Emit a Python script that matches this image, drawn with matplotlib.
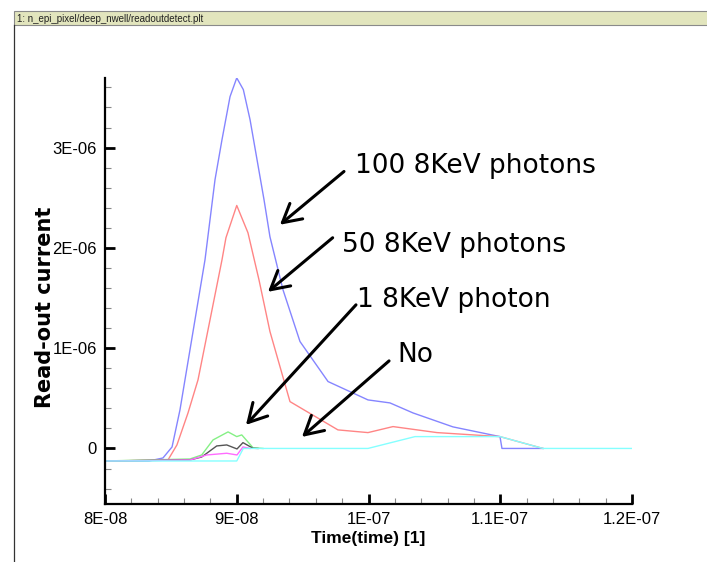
"""Read-out current of the deep n-well pixel for several photon counts."""

import matplotlib

matplotlib.use("Agg")
import matplotlib.pyplot as plt
import numpy as np
from matplotlib.patches import Rectangle
from matplotlib.lines import Line2D

# Time in ns, current in uA.
t_100 = [80.0, 83.34, 84.40, 85.09, 85.69, 86.07, 87.59, 88.35, 88.88, 89.49,
         90.0, 90.5, 91.01, 91.54, 92.07, 92.52, 93.51, 94.80, 96.93, 99.96,
         101.63, 103.38, 106.41, 109.98, 110.13, 113.24]
i_100 = [-0.125, -0.125, -0.095, 0.015, 0.384, 0.684, 1.881, 2.680, 3.079, 3.508,
         3.695, 3.578, 3.278, 2.879, 2.480, 2.111, 1.582, 1.066, 0.667, 0.484,
         0.454, 0.354, 0.215, 0.118, 0.0, 0.0]

t_50 = [80.0, 84.78, 85.46, 86.30, 87.06, 87.97, 88.88, 89.18, 90.0, 90.85,
        91.69, 92.52, 94.04, 97.68, 99.96, 101.86, 105.20, 109.98, 113.24]
i_50 = [-0.125, -0.115, 0.035, 0.354, 0.684, 1.282, 1.881, 2.101, 2.423, 2.151,
        1.680, 1.166, 0.467, 0.185, 0.158, 0.218, 0.158, 0.118, 0.0]

t_green = [80.0, 86.45, 87.34, 88.20, 89.34, 90.0, 90.38, 91.23, 91.99]
i_green = [-0.125, -0.105, -0.065, 0.085, 0.165, 0.118, 0.135, 0.008, 0.0]

t_black = [80.0, 86.45, 87.34, 88.48, 89.24, 90.02, 90.47, 91.23, 91.61]
i_black = [-0.125, -0.115, -0.085, 0.025, 0.035, -0.005, 0.058, 0.002, 0.0]

t_magenta = [80.0, 86.45, 87.72, 89.24, 90.02, 90.47, 91.0]
i_magenta = [-0.125, -0.115, -0.065, -0.048, -0.065, 0.015, 0.0]

t_none = [80.0, 90.0, 90.5, 99.96, 103.53, 109.98, 113.24, 120.0]
i_none = [-0.125, -0.125, 0.0, 0.0, 0.118, 0.118, 0.0, 0.0]

x_ticks = [8e-8, 9e-8, 1e-7, 1.1e-7, 1.2e-7]
x_labels = ["8E-08", "9E-08", "1E-07", "1.1E-07", "1.2E-07"]
y_ticks = [0, 1e-6, 2e-6, 3e-6]
y_labels = ["0", "1E-06", "2E-06", "3E-06"]

# (label, arrow head, arrow tail, text anchor) in ns / uA
notes = [
    ("100 8KeV photons", (93.28, 2.231), (98.14, 2.762), (98.98, 2.82)),
    ("50 8KeV photons", (92.37, 1.562), (97.28, 2.101), (97.99, 2.031)),
    ("1 8KeV photon", (90.70, 0.235), (99.05, 1.432), (99.13, 1.482)),
    ("No", (94.95, 0.115), (101.56, 0.873), (102.16, 0.933)),
]

narrow = ["Liberation Sans Narrow", "Liberation Sans", "DejaVu Sans"]

W, H = 707, 562
fig = plt.figure(figsize=(W / 100, H / 100), dpi=100)

# Tecplot frame header bar
fig.patches.append(Rectangle((14 / W, 1 - 25 / H), 1, 14 / H, transform=fig.transFigure,
                             facecolor="#e2e5bd", edgecolor="#8a8a8a", lw=0.8))
fig.lines.append(Line2D([14 / W, 14 / W], [0, 1 - 25 / H], transform=fig.transFigure,
                        color="#333333", lw=0.9))
fig.text(17 / W, 1 - 18.5 / H, "1: n_epi_pixel/deep_nwell/readoutdetect.plt",
         family=narrow, fontsize=7, va="center", ha="left", color="#222222")

ax = fig.add_axes([105 / W, 1 - 504 / H, 527 / W, 426 / H])

series = [
    (t_100, i_100, "#8585ff"),
    (t_50, i_50, "#ff8585"),
    (t_green, i_green, "#85f085"),
    (t_black, i_black, "#555555"),
    (t_magenta, i_magenta, "#ff6cff"),
    (t_none, i_none, "#85ffff"),
]
for t, i, c in series:
    ax.plot(np.array(t) * 1e-9, np.array(i) * 1e-6, color=c, lw=1.0)

ax.set_xlim(8e-8, 1.2e-7)
ax.set_ylim(-0.554e-6, 3.694e-6)

for side in ("top", "right"):
    ax.spines[side].set_visible(False)
for side in ("left", "bottom"):
    ax.spines[side].set_linewidth(1.6)

ax.set_xticks(x_ticks, x_labels)
ax.set_yticks(y_ticks, y_labels)
ax.set_xticks(np.arange(8e-8, 1.2e-7, 2e-9), minor=True)
ax.set_yticks(np.arange(-0.4e-6, 3.7e-6, 0.2e-6), minor=True)
ax.tick_params(which="major", direction="in", length=7.5, width=2, pad=6,
               labelsize=12, colors="black")
ax.tick_params(which="minor", direction="in", length=4.5, width=0.8, color="#888888")
for lab in ax.get_xticklabels() + ax.get_yticklabels():
    lab.set_family(narrow)

ax.set_xlabel("Time(time) [1]", family="Liberation Sans", fontweight="bold",
              fontsize=12.5, va="top")
ax.xaxis.set_label_coords(0.5, -0.063)
ax.set_ylabel("Read-out current", family="DejaVu Sans", fontweight="bold",
              fontsize=15, va="center")
ax.yaxis.set_label_coords(-0.114, 0.462)

for text, head, tail, anchor in notes:
    ax.annotate("", xy=(head[0] * 1e-9, head[1] * 1e-6),
                xytext=(tail[0] * 1e-9, tail[1] * 1e-6),
                arrowprops=dict(arrowstyle="->,head_length=0.65,head_width=0.36",
                                lw=2.2, color="black", mutation_scale=20,
                                shrinkA=0, shrinkB=0))
    ax.text(anchor[0] * 1e-9, anchor[1] * 1e-6, text, fontsize=19,
            family="DejaVu Sans", ha="left", va="center")

fig.savefig("out.png", dpi=100)
